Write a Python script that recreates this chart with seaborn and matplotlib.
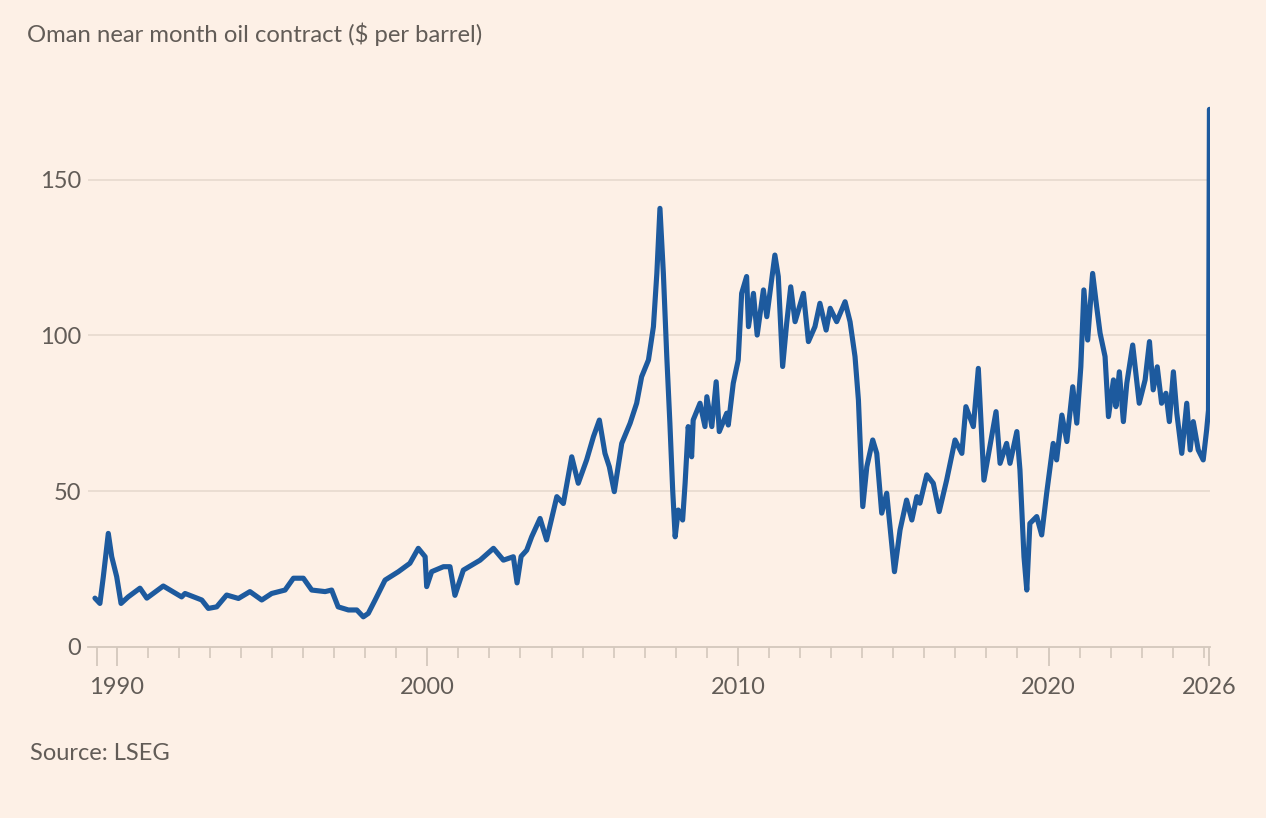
# Oman near month oil contract — FT style line chart
import pandas as pd
import numpy as np
import matplotlib.pyplot as plt
import seaborn as sns

# 데이터 (그림에서 읽은 값, x는 축 눈금 기준 연도)
years = [
    1989.30, 1989.46, 1989.57, 1989.73, 1989.84, 1990.00, 1990.14, 1990.37, 1990.75, 1990.97,
    1991.50, 1992.09, 1992.20, 1992.74, 1992.95, 1993.22, 1993.54, 1993.92, 1994.29, 1994.67,
    1994.99, 1995.42, 1995.69, 1996.01, 1996.28, 1996.71, 1996.92, 1997.13, 1997.46, 1997.73,
    1997.94, 1998.10, 1998.32, 1998.64, 1999.07, 1999.44, 1999.71, 1999.93, 1999.98, 2000.14,
    2000.52, 2000.73, 2000.89, 2001.16, 2001.70, 2002.13, 2002.45, 2002.77, 2002.89, 2003.02,
    2003.20, 2003.36, 2003.63, 2003.84, 2004.17, 2004.38, 2004.65, 2004.86, 2005.13, 2005.35,
    2005.54, 2005.72, 2005.86, 2006.02, 2006.26, 2006.53, 2006.74, 2006.90, 2007.12, 2007.28,
    2007.39, 2007.49, 2007.60, 2007.71, 2007.81, 2007.90, 2007.98, 2008.08, 2008.22, 2008.30,
    2008.40, 2008.51, 2008.56, 2008.78, 2008.94, 2009.00, 2009.16, 2009.30, 2009.40, 2009.64,
    2009.69, 2009.85, 2010.01, 2010.12, 2010.28, 2010.34, 2010.50, 2010.62, 2010.82, 2010.93,
    2011.19, 2011.30, 2011.44, 2011.57, 2011.70, 2011.84, 2012.11, 2012.27, 2012.48, 2012.64,
    2012.84, 2012.97, 2013.18, 2013.45, 2013.61, 2013.77, 2013.88, 2014.02, 2014.15, 2014.34,
    2014.47, 2014.63, 2014.79, 2015.04, 2015.22, 2015.43, 2015.60, 2015.76, 2015.86, 2016.08,
    2016.29, 2016.48, 2016.72, 2016.99, 2017.21, 2017.34, 2017.58, 2017.74, 2017.92, 2018.17,
    2018.31, 2018.44, 2018.65, 2018.76, 2018.98, 2019.08, 2019.21, 2019.30, 2019.40, 2019.62,
    2019.78, 2019.94, 2020.15, 2020.26, 2020.43, 2020.59, 2020.78, 2020.91, 2021.04, 2021.14,
    2021.26, 2021.42, 2021.55, 2021.66, 2021.82, 2021.93, 2022.09, 2022.17, 2022.28, 2022.41,
    2022.52, 2022.71, 2022.92, 2023.11, 2023.25, 2023.37, 2023.50, 2023.64, 2023.78, 2023.89,
    2024.02, 2024.13, 2024.29, 2024.45, 2024.56, 2024.66, 2024.82, 2024.98, 2025.09, 2025.15,
    2025.18,
]
price = [
    15.6, 13.9, 22.5, 36.4, 28.9, 22.5, 13.9, 16.0, 18.8, 15.6,
    19.5, 16.0, 17.1, 15.0, 12.3, 12.8, 16.6, 15.5, 17.7, 15.0,
    17.1, 18.2, 22.0, 22.0, 18.2, 17.7, 18.2, 12.8, 11.8, 11.8,
    9.6, 10.7, 15.0, 21.4, 24.1, 26.8, 31.6, 28.9, 19.3, 24.1,
    25.7, 25.7, 16.5, 24.6, 27.8, 31.6, 27.8, 28.9, 20.5, 29.0,
    31.0, 35.3, 41.2, 34.3, 48.2, 46.0, 61.0, 52.5, 60.0, 67.5,
    72.8, 62.1, 57.8, 49.8, 65.3, 71.8, 78.2, 86.7, 92.1, 102.8,
    119.9, 140.8, 119.9, 93.2, 71.8, 50.3, 35.3, 43.9, 40.7, 52.5,
    70.7, 61.0, 72.8, 78.2, 70.7, 80.3, 70.7, 85.1, 69.1, 75.0,
    71.2, 84.6, 92.1, 113.5, 118.9, 102.8, 113.5, 100.1, 114.6, 106.0,
    125.8, 118.9, 90.0, 103.9, 115.6, 104.4, 113.5, 98.0, 102.8, 110.3,
    101.7, 108.7, 104.4, 110.8, 104.4, 93.2, 79.2, 45.0, 57.8, 66.4,
    62.1, 42.9, 49.3, 24.1, 37.5, 47.1, 40.7, 48.2, 46.1, 55.2,
    52.5, 43.4, 53.5, 66.4, 62.1, 77.1, 70.7, 89.4, 53.5, 67.5,
    75.5, 58.9, 65.3, 58.9, 69.1, 56.8, 28.9, 18.2, 39.6, 41.8,
    35.9, 49.3, 65.3, 60.0, 74.4, 65.9, 83.5, 71.8, 89.9, 114.6,
    98.5, 119.9, 109.2, 100.7, 93.2, 73.9, 85.7, 77.1, 88.3, 72.3,
    84.6, 96.9, 78.2, 85.7, 98.0, 82.5, 89.9, 78.2, 81.4, 72.3,
    88.3, 75.0, 62.1, 78.2, 63.2, 72.3, 63.2, 60.0, 69.6, 76.0,
    172.6,
]

major_ticks = [1989.36, 1990, 2000, 2010, 2020, 2025.18]
major_labels = ['', '1990', '2000', '2010', '2020', '2026']
minor_ticks = list(range(1991, 2026))
y_ticks = [0, 50, 100, 150]

bg = '#fdf0e6'
text_col = '#625c57'

df = pd.DataFrame({'year': years, 'price': price})

sns.set_theme(style='white')
plt.rcParams['font.family'] = ['Lato', 'DejaVu Sans']

fig = plt.figure(figsize=(12.66, 8.18), dpi=100, facecolor=bg)
ax = fig.add_axes([0.0695, 0.2094, 0.8863, 0.6851], facecolor=bg)

for v in y_ticks[1:]:
    ax.axhline(v, color='#e8dbd0', lw=1.3, zorder=0)

sns.lineplot(data=df, x='year', y='price', ax=ax, color='#1d5a9e',
             linewidth=3.7, estimator=None, sort=False)

ax.set_xlim(1989.076, 2025.20)
ax.set_ylim(0, 180)
ax.set_yticks(y_ticks)
ax.set_xticks(major_ticks)
ax.set_xticklabels(major_labels)
ax.set_xticks(minor_ticks, minor=True)
ax.set_xlabel('')
ax.set_ylabel('')

for s in ['top', 'right', 'left']:
    ax.spines[s].set_visible(False)
ax.spines['bottom'].set_color('#d4c8bd')
ax.spines['bottom'].set_linewidth(1.3)

ax.tick_params(axis='y', length=0, pad=5, labelsize=17, labelcolor=text_col)
ax.tick_params(axis='x', which='major', length=14, width=1.3, color='#d4c8bd',
               bottom=True, pad=8, labelsize=17, labelcolor=text_col)
ax.tick_params(axis='x', which='minor', length=8, width=1.2, color='#d4c8bd',
               bottom=True)

fig.text(27 / 1266, 1 - 34 / 818, 'Oman near month oil contract ($ per barrel)',
         fontsize=17.2, color=text_col, va='center', ha='left')
fig.text(30 / 1266, 1 - 753 / 818, 'Source: LSEG',
         fontsize=17, color=text_col, va='center', ha='left')

fig.savefig('out.png', dpi=100, facecolor=bg)
